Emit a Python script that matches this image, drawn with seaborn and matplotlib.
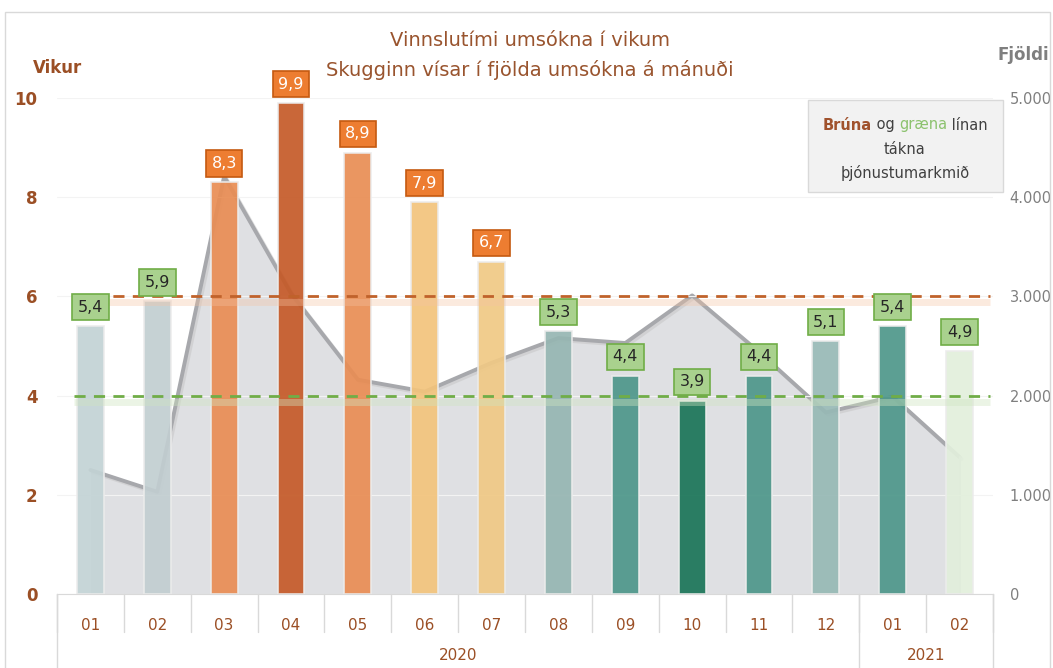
import pandas as pd
import numpy as np
import matplotlib
matplotlib.use("Agg")
import matplotlib.pyplot as plt
import matplotlib.patheffects as pe
from matplotlib.patches import Rectangle
import seaborn as sns

# gögn lesin af myndinni
months = ["01", "02", "03", "04", "05", "06", "07", "08", "09", "10", "11", "12", "01", "02"]
years = ["2020"] * 12 + ["2021"] * 2
vikur = [5.4, 5.9, 8.3, 9.9, 8.9, 7.9, 6.7, 5.3, 4.4, 3.9, 4.4, 5.1, 5.4, 4.9]
fjoldi = [1250, 1030, 4210, 3030, 2160, 2040, 2330, 2580, 2530, 3010, 2440, 1830, 1990, 1380]
target_brown = 6
target_green = 4

bar_colors = ["#c3d3d5", "#c2ced1", "#e98d54", "#c55a28", "#e98d54", "#f3c47c", "#f0c985",
              "#96b6b2", "#4e978a", "#1a7558", "#4e978a", "#97b9b5", "#4e978a", "#e2efdc"]
orange_lbl = [False, False, True, True, True, True, True, False, False, False, False, False, False, False]

keys = [f"{y}-{m}" for y, m in zip(years, months)]
df = pd.DataFrame({"key": keys, "vikur": vikur, "fjoldi": fjoldi})
df["pos"] = np.arange(len(df))

sns.set_style("white")
plt.rcParams["font.family"] = ["DejaVu Sans"]
brown = "#9b4f25"
grey_txt = "#7f7f7f"

fig = plt.figure(figsize=(10.53, 6.68), dpi=100)
ax = fig.add_axes([57 / 1053, 74 / 668, 936 / 1053, 496 / 668])
ax2 = ax.twinx()
ax.set_zorder(ax2.get_zorder() + 1)
ax.patch.set_visible(False)

# skugginn: fjöldi umsókna
ax2.fill_between(df["pos"], df["fjoldi"], color="#dfe0e3", lw=0, zorder=1)
sns.lineplot(data=df, x="pos", y="fjoldi", ax=ax2, color="#a7a8ac", lw=2.8, zorder=2,
             path_effects=[pe.SimpleLineShadow(offset=(1.5, -1.5), shadow_color="#c4c4c4", alpha=0.5),
                           pe.Normal()])
ax2.plot([df["pos"].iloc[-1]] * 2, [0, df["fjoldi"].iloc[-1]], color="#d0d1d4", lw=1.5, zorder=2)
ax2.set_ylim(0, 5000)
ax2.set_xlim(-0.5, 13.5)
ax2.set_yticks(range(0, 5001, 1000))
ax2.set_yticklabels([f"{v:,}".replace(",", ".") for v in range(0, 5001, 1000)])
ax2.tick_params(axis="y", length=0, pad=12, labelsize=10.5, labelcolor=grey_txt)
ax2.set_ylabel("")
ax2.set_xlabel("")
for s in ax2.spines.values():
    s.set_visible(False)

# súlurnar
sns.barplot(data=df, x="key", y="vikur", hue="key", palette=bar_colors, order=keys,
            legend=False, width=0.4, ax=ax, alpha=0.92, edgecolor="#ececec", linewidth=1.2,
            saturation=1)
ax.set_ylim(0, 10)
ax.set_xlim(-0.5, 13.5)
ax.set_yticks(range(0, 11, 2))
ax.tick_params(axis="y", length=0, pad=14, labelsize=12, labelcolor=brown)
for lbl in ax.get_yticklabels():
    lbl.set_fontweight("bold")
ax.set_xticks(range(len(months)))
ax.set_xticklabels(months)
ax.tick_params(axis="x", length=0, pad=17, labelsize=11, labelcolor=brown)
ax.set_xlabel("")
ax.set_ylabel("")
ax.grid(axis="y", color="#f3f3f3", lw=0.8)
ax.set_axisbelow(True)
for side in ["top", "left", "right"]:
    ax.spines[side].set_visible(False)
ax.spines["bottom"].set_color("#d9d9d9")

# þjónustumarkmið
ax.hlines(target_brown - 0.12, -0.25, 13.45, color="#f5c3a3", lw=5, alpha=0.35, zorder=3)
ax.hlines(target_brown, -0.25, 13.45, color="#c0622b", lw=2, linestyles=(0, (4, 3)), zorder=4)
ax.hlines(target_green - 0.12, -0.25, 13.45, color="#cfe5c0", lw=5, alpha=0.4, zorder=3)
ax.hlines(target_green, -0.25, 13.45, color="#70ad47", lw=2, linestyles=(0, (4, 3)), zorder=4)

# gildismerki
for i, v in enumerate(vikur):
    txt = f"{v:.1f}".replace(".", ",")
    if orange_lbl[i]:
        fc, ec, tc = "#ed7d31", "#c55a11", "white"
    else:
        fc, ec, tc = "#a9d18e", "#70ad47", "#262626"
    ax.text(i, v + 0.38, txt, ha="center", va="center", fontsize=11.5, color=tc, zorder=6,
            clip_on=False, bbox=dict(boxstyle="square,pad=0.35", fc=fc, ec=ec, lw=1.2))

# ártöl og skilalínur
xt = ax.get_xaxis_transform()
for k in range(len(months) + 1):
    ax.plot([k - 0.5, k - 0.5], [0, -0.077], transform=xt, color="#d9d9d9", lw=1, clip_on=False)
for k in [0, 12, 14]:
    ax.plot([k - 0.5, k - 0.5], [0, -0.2], transform=xt, color="#d9d9d9", lw=1, clip_on=False)
ax.text(5.5, -0.123, "2020", transform=xt, ha="center", va="center", fontsize=11, color=brown)
ax.text(12.5, -0.123, "2021", transform=xt, ha="center", va="center", fontsize=11, color=brown)

# titlar
fig.text(530 / 1053, 1 - 40 / 668, "Vinnslutími umsókna í vikum", ha="center", va="center",
         fontsize=14, color="#99542e")
fig.text(530 / 1053, 1 - 70 / 668, "Skugginn vísar í fjölda umsókna á mánuði", ha="center",
         va="center", fontsize=14, color="#99542e")
fig.text(58 / 1053, 1 - 68 / 668, "Vikur", ha="center", va="center", fontsize=12,
         fontweight="bold", color=brown)
fig.text(1023 / 1053, 1 - 55 / 668, "Fjöldi", ha="center", va="center", fontsize=12,
         fontweight="bold", color=grey_txt)

# rammi utan um myndina
fig.patches.append(Rectangle((5 / 1053, -0.01), 1045 / 1053, 1 - 12 / 668 + 0.01,
                             transform=fig.transFigure, fill=False, ec="#d9d9d9", lw=1))

# skýringarkassi
fig.patches.append(Rectangle((808 / 1053, 1 - 192 / 668), 195 / 1053, 92 / 668,
                             transform=fig.transFigure, fc="#f2f2f2", ec="#d9d9d9", lw=1, zorder=5))
t1 = fig.text(820 / 1053, 1 - 125 / 668, "Brúna", ha="left", va="center", fontsize=10.5,
              fontweight="bold", color="#a0522d", zorder=6)
t2 = fig.text(0, 0, " og ", fontsize=10.5, color="#404040", zorder=6)
t3 = fig.text(0, 0, "græna", fontsize=10.5, color="#8cc26e", zorder=6)
t4 = fig.text(0, 0, " línan", fontsize=10.5, color="#404040", zorder=6)
fig.canvas.draw()
r = fig.canvas.get_renderer()
x = t1.get_window_extent(r).x1
yb = t1.get_window_extent(r).y0
for t in [t2, t3, t4]:
    t.set_va("bottom")
    t.set_position((x / fig.bbox.width, yb / fig.bbox.height))
    fig.canvas.draw()
    x = t.get_window_extent(r).x1
total = x - t1.get_window_extent(r).x0
shift = (905 - total / 2) - t1.get_window_extent(r).x0
for t in [t1, t2, t3, t4]:
    px, py = t.get_position()
    t.set_position((px + shift / fig.bbox.width, py))
fig.text(905 / 1053, 1 - 149 / 668, "tákna", ha="center", va="center", fontsize=10.5,
         color="#404040", zorder=6)
fig.text(905 / 1053, 1 - 173 / 668, "þjónustumarkmið", ha="center", va="center", fontsize=10.5,
         color="#404040", zorder=6)

fig.savefig("out.png", dpi=100)
